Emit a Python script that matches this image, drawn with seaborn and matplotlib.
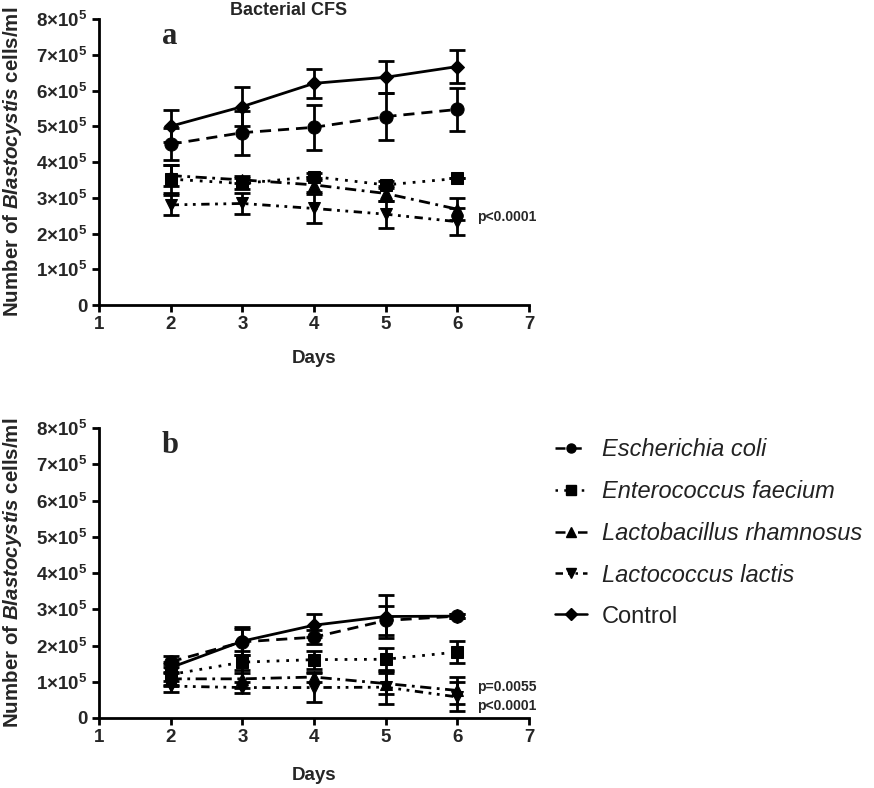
import numpy as np
import pandas as pd
import matplotlib
matplotlib.use("Agg")
import matplotlib.pyplot as plt
from matplotlib.lines import Line2D
import seaborn as sns

sns.set_theme(style="ticks")
plt.rcParams['font.family'] = ['Liberation Sans', 'DejaVu Sans']
plt.rcParams['mathtext.fontset'] = 'custom'
plt.rcParams['mathtext.rm'] = 'Liberation Sans'
plt.rcParams['mathtext.bf'] = 'Liberation Sans:bold'
plt.rcParams['mathtext.it'] = 'Liberation Sans:italic'
plt.rcParams['mathtext.bfit'] = 'Liberation Sans:bold:italic'

# ---------------- data (values in units of 10^5 cells/ml) ----------------
days = [2, 3, 4, 5, 6]
species = ["Escherichia coli", "Enterococcus faecium", "Lactobacillus rhamnosus",
           "Lactococcus lactis", "Control"]

a_ecoli = [4.50, 4.82, 4.97, 5.27, 5.47]
a_ecoli_sd = [0.45, 0.62, 0.63, 0.65, 0.60]
a_faecium = [3.52, 3.40, 3.59, 3.36, 3.54]
a_faecium_sd = [0.40, 0.15, 0.10, 0.10, 0.00]
a_rhamnosus = [3.62, 3.50, 3.36, 3.12, 2.68]
a_rhamnosus_sd = [0.30, 0.10, 0.20, 0.20, 0.30]
a_lactis = [2.80, 2.84, 2.70, 2.54, 2.33]
a_lactis_sd = [0.28, 0.30, 0.40, 0.38, 0.37]
a_control = [5.00, 5.55, 6.20, 6.37, 6.67]
a_control_sd = [0.45, 0.55, 0.40, 0.45, 0.45]

b_ecoli = [1.55, 2.10, 2.23, 2.69, 2.81]
b_ecoli_sd = [0.15, 0.35, 0.20, 0.40, 0.05]
b_faecium = [1.20, 1.54, 1.61, 1.62, 1.82]
b_faecium_sd = [0.30, 0.30, 0.25, 0.30, 0.30]
b_rhamnosus = [1.08, 1.08, 1.13, 0.95, 0.76]
b_rhamnosus_sd = [0.20, 0.25, 0.15, 0.30, 0.37]
b_lactis = [0.88, 0.84, 0.84, 0.85, 0.58]
b_lactis_sd = [0.15, 0.15, 0.40, 0.45, 0.40]
b_control = [1.39, 2.12, 2.56, 2.80, 2.81]
b_control_sd = [0.15, 0.39, 0.32, 0.60, 0.05]

y_ticks = [0, 1, 2, 3, 4, 5, 6, 7, 8]
y_ticklabels = ["0"] + [r"$\mathbf{%d{\times}10^{5}}$" % v for v in y_ticks[1:]]
x_ticks = [1, 2, 3, 4, 5, 6, 7]

panel_a = {"means": [a_ecoli, a_faecium, a_rhamnosus, a_lactis, a_control],
           "sds": [a_ecoli_sd, a_faecium_sd, a_rhamnosus_sd, a_lactis_sd, a_control_sd]}
panel_b = {"means": [b_ecoli, b_faecium, b_rhamnosus, b_lactis, b_control],
           "sds": [b_ecoli_sd, b_faecium_sd, b_rhamnosus_sd, b_lactis_sd, b_control_sd]}

# ---------------- styles ----------------
markers = {"Escherichia coli": "o", "Enterococcus faecium": "s",
           "Lactobacillus rhamnosus": "^", "Lactococcus lactis": "v", "Control": "D"}
dashes = {"Escherichia coli": (4, 2.5), "Enterococcus faecium": (1, 2.5),
          "Lactobacillus rhamnosus": (4, 2, 1, 2), "Lactococcus lactis": (3, 2, 1, 2, 1, 2),
          "Control": ""}
msizes = {"Escherichia coli": 9.5, "Enterococcus faecium": 9,
          "Lactobacillus rhamnosus": 9, "Lactococcus lactis": 9, "Control": 7.5}

W, H = 874, 788
fig = plt.figure(figsize=(W / 100, H / 100), dpi=100)
ax_a = fig.add_axes([99 / W, 1 - 305 / H, 430 / W, 286 / H])
ax_b = fig.add_axes([99 / W, 1 - 718 / H, 430 / W, 290 / H])


def draw(ax, panel, xlabelpad):
    rows = []
    for sp, vals, sds in zip(species, panel["means"], panel["sds"]):
        for d, v, s in zip(days, vals, sds):
            rows.append({"day": d, "value": v, "sd": s, "species": sp})
    df = pd.DataFrame(rows)
    for sp in species:
        sub = df[df.species == sp]
        ax.errorbar(sub["day"], sub["value"], yerr=sub["sd"], fmt="none",
                    ecolor="black", elinewidth=2, capsize=5.5, capthick=2, zorder=2)
    for sp in species:
        sub = df[df.species == sp]
        sns.lineplot(data=sub, x="day", y="value", color="black",
                     marker=markers[sp], markersize=msizes[sp], markeredgecolor="black",
                     linestyle="-" if not dashes[sp] else (0, dashes[sp]),
                     linewidth=2, ax=ax, legend=False, errorbar=None, zorder=3)
    ax.set_xlim(1, 7)
    ax.set_ylim(0, 8)
    ax.set_xticks(x_ticks)
    ax.set_xticklabels([str(t) for t in x_ticks], fontweight="bold", fontsize=13.5)
    ax.set_yticks(y_ticks)
    ax.set_yticklabels(y_ticklabels, fontsize=13.5, fontweight="bold")
    for sp_ in ["top", "right"]:
        ax.spines[sp_].set_visible(False)
    for sp_ in ["left", "bottom"]:
        ax.spines[sp_].set_linewidth(2)
        ax.spines[sp_].set_color("black")
    ax.tick_params(axis="both", width=2, length=5, color="black", pad=3)
    ax.set_xlabel("Days", fontsize=13.5, fontweight="bold", labelpad=xlabelpad)
    ax.set_ylabel(r"$\mathbf{Number\ of\ }\mathbfit{Blastocystis}\mathbf{\ cells/ml}$",
                  fontsize=14.8, labelpad=4)
    ax.yaxis.set_label_coords(-0.174, 0.5)


draw(ax_a, panel_a, 12)
draw(ax_b, panel_b, 15)

ax_a.text(0.44, 1.03, "Bacterial CFS", transform=ax_a.transAxes, ha="center", va="center",
          fontsize=13, fontweight="bold")
ax_a.text(0.165, 0.94, "a", transform=ax_a.transAxes, ha="center", va="center",
          fontsize=22, fontweight="bold", family="Liberation Serif")
ax_b.text(0.165, 0.94, "b", transform=ax_b.transAxes, ha="center", va="center",
          fontsize=22, fontweight="bold", family="Liberation Serif")
ax_a.text(6.27, 2.47, "p<0.0001", fontsize=10, fontweight="bold", va="center")
ax_b.text(6.27, 0.86, "p=0.0055", fontsize=10, fontweight="bold", va="center")
ax_b.text(6.27, 0.33, "p<0.0001", fontsize=10, fontweight="bold", va="center")

handles = [Line2D([0], [0], color="black", lw=1.8, marker=markers[s], markersize=6.5,
                  linestyle="-" if not dashes[s] else (0, dashes[s])) for s in species]
leg = fig.legend(handles, species, loc="upper left", bbox_to_anchor=(555 / W, 1 - 438 / H),
                 frameon=False, labelspacing=0.8, handlelength=1.35,
                 handletextpad=0.65, borderpad=0, borderaxespad=0,
                 prop={"style": "italic", "size": 17, "family": "Liberation Sans"})
for t in leg.get_texts():
    t.set_color("#222222")
    if t.get_text() == "Control":
        t.set_fontstyle("normal")

fig.savefig("out.png", dpi=100)
